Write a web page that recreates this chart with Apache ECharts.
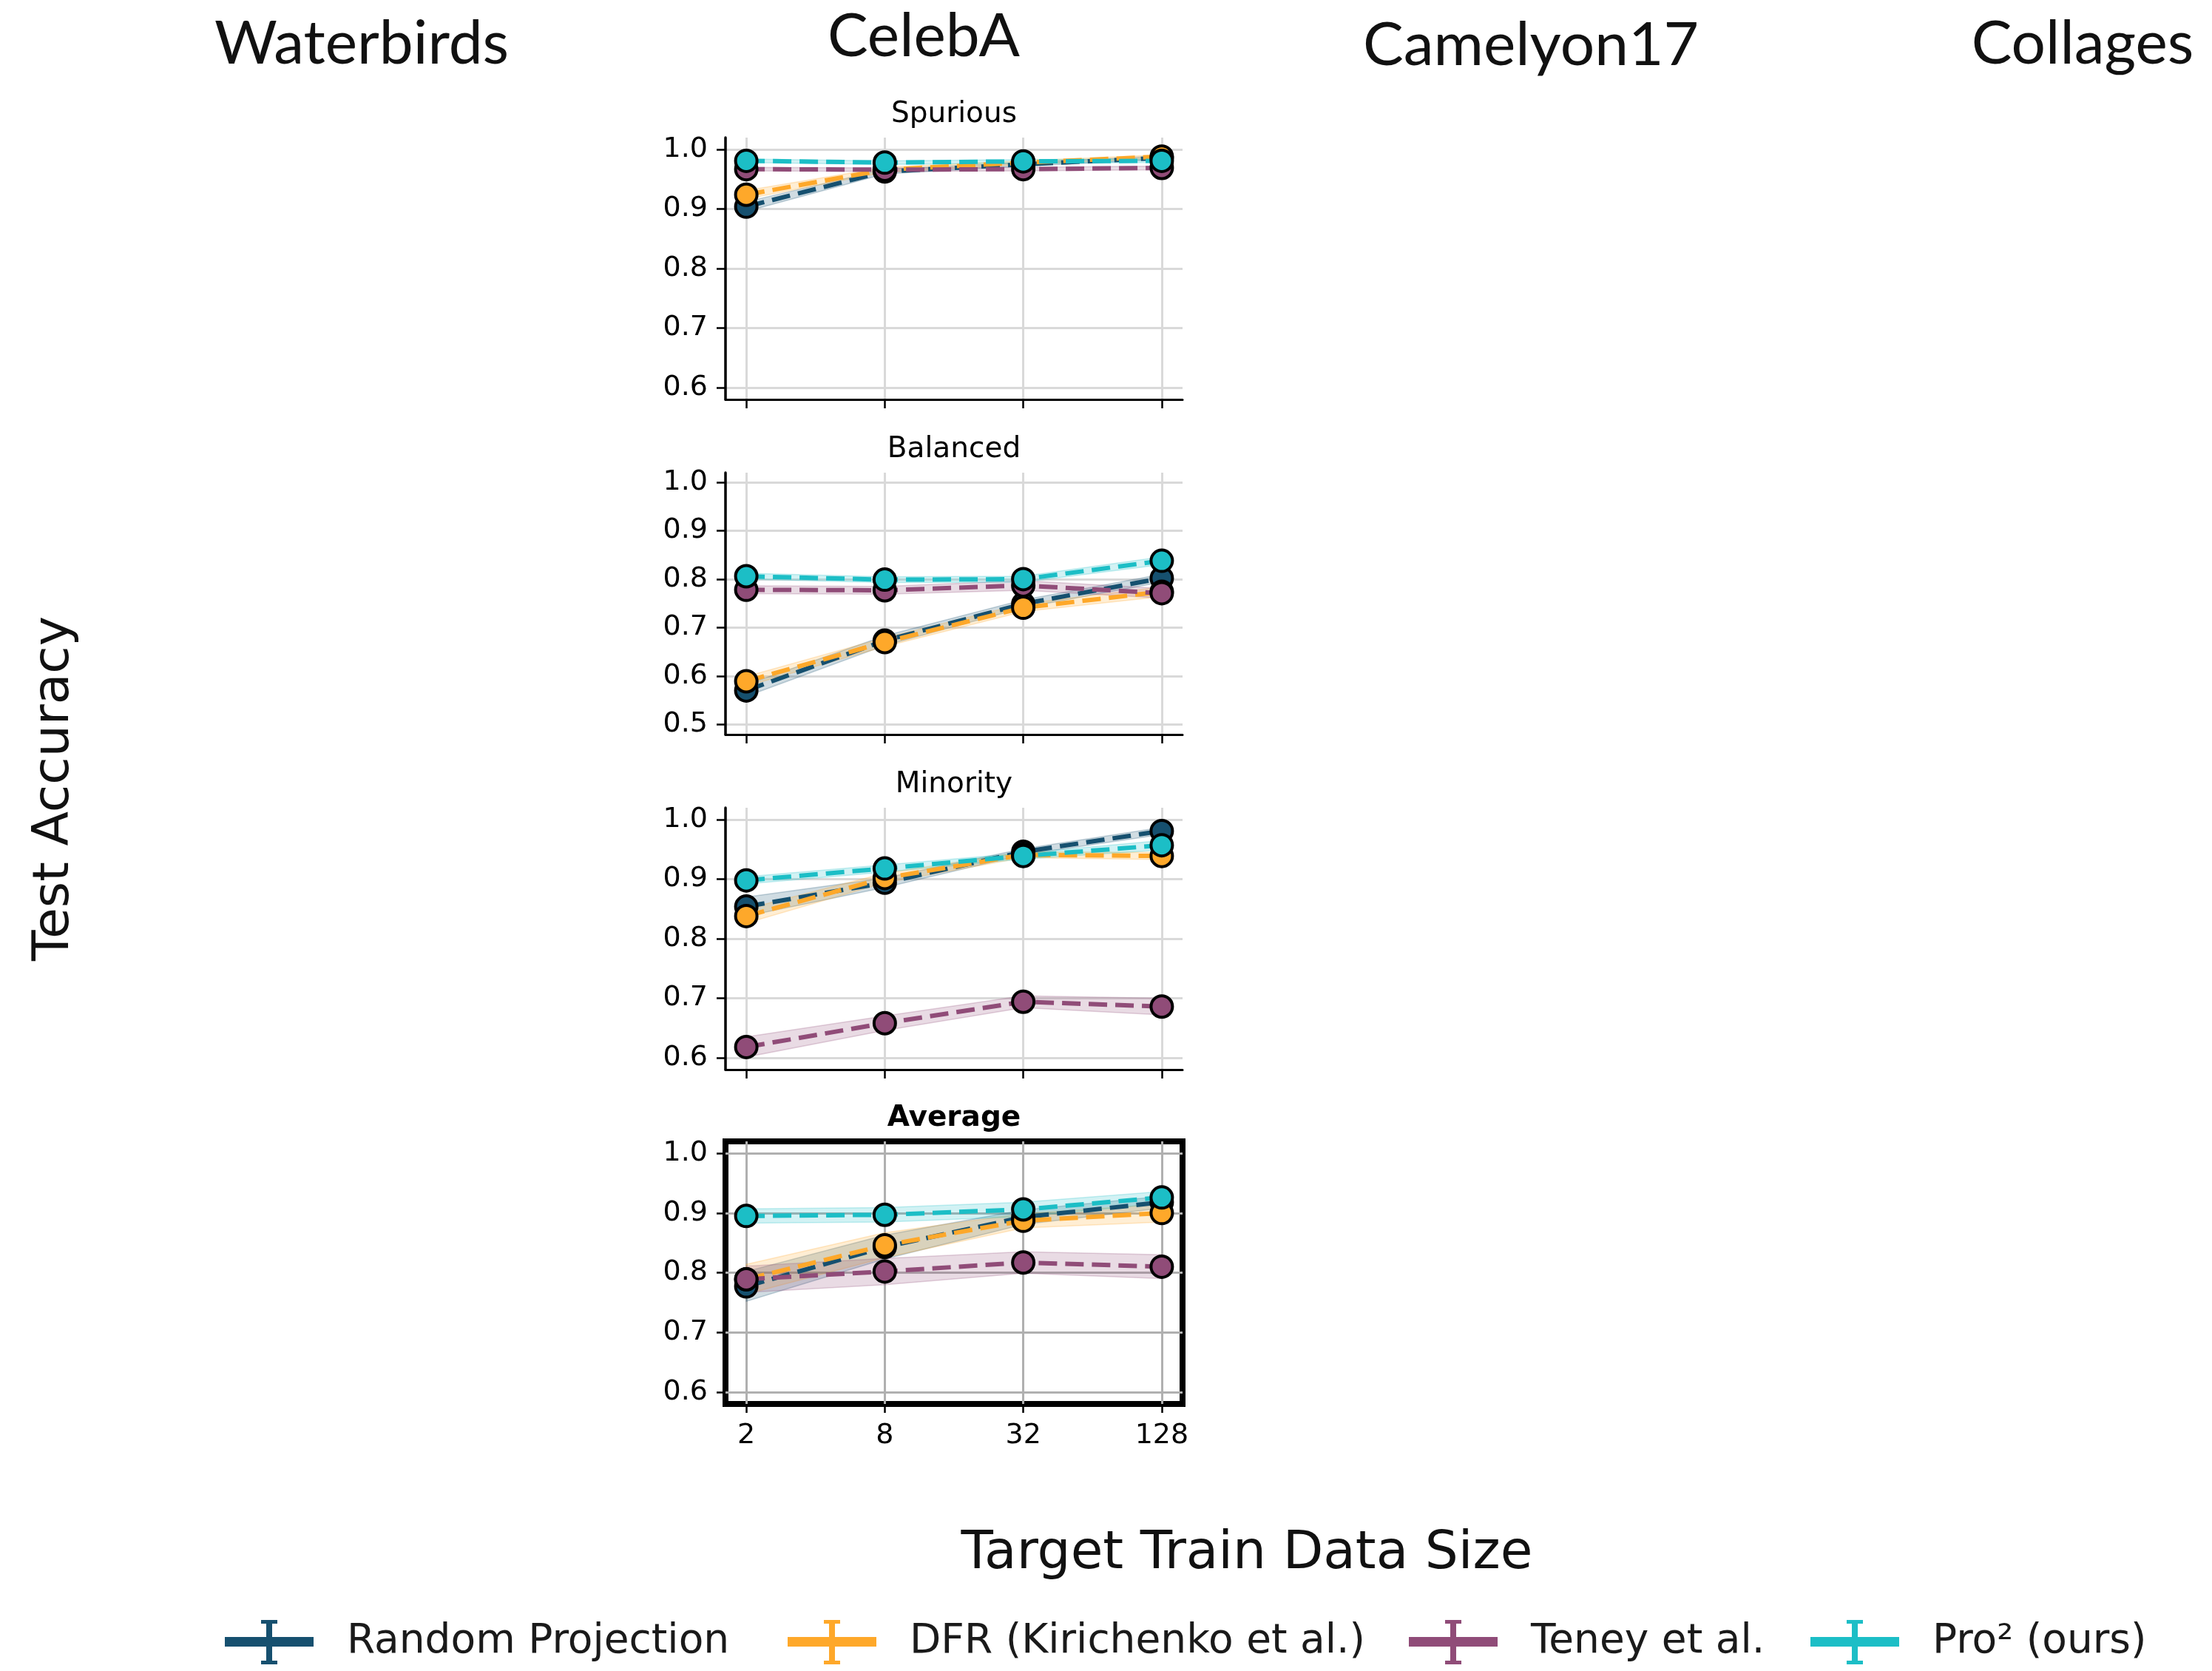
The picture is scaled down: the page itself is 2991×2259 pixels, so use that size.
<!DOCTYPE html>
<html><head><meta charset="utf-8">
<script src="https://cdn.jsdelivr.net/npm/echarts@6/dist/echarts.min.js"></script>
<style>html,body{margin:0;padding:0;background:#fff}#c{width:2991px;height:2259px}</style>
</head><body><div id="c"></div>
<script>
// ---------------- data ----------------
const xTickLabels = ['2', '8', '32', '128'];
const xPositions = [0, 1, 2, 3];
const methodNames = ['Random Projection', 'DFR (Kirichenko et al.)', 'Teney et al.', 'Pro\u00b2 (ours)'];
const methodColors = ['#16506f', '#fea82a', '#904c78', '#1cbec6'];
const panelTitles = ['Spurious', 'Balanced', 'Minority', 'Average'];
const datasetHeaders = ['Waterbirds', 'CelebA', 'Camelyon17', 'Collages'];
const yAxisTitle = 'Test Accuracy';
const xAxisTitle = 'Target Train Data Size';

// rows: Random Projection, DFR, Teney et al., Pro2
const spuriousMean = [
  [0.904, 0.963, 0.975, 0.986],
  [0.924, 0.966, 0.978, 0.988],
  [0.967, 0.966, 0.967, 0.969],
  [0.981, 0.978, 0.980, 0.981]];
const spuriousStd = [
  [0.008, 0.004, 0.003, 0.003],
  [0.007, 0.004, 0.003, 0.003],
  [0.003, 0.003, 0.003, 0.003],
  [0.003, 0.003, 0.003, 0.003]];

const balancedMean = [
  [0.570, 0.673, 0.749, 0.802],
  [0.589, 0.670, 0.741, 0.774],
  [0.778, 0.777, 0.787, 0.771],
  [0.806, 0.799, 0.800, 0.838]];
const balancedStd = [
  [0.012, 0.010, 0.008, 0.008],
  [0.010, 0.009, 0.008, 0.010],
  [0.008, 0.008, 0.010, 0.010],
  [0.006, 0.006, 0.006, 0.008]];

const minorityMean = [
  [0.854, 0.894, 0.946, 0.981],
  [0.838, 0.902, 0.941, 0.939],
  [0.618, 0.658, 0.694, 0.686],
  [0.898, 0.918, 0.939, 0.957]];
const minorityStd = [
  [0.016, 0.008, 0.005, 0.006],
  [0.012, 0.008, 0.005, 0.006],
  [0.017, 0.012, 0.010, 0.014],
  [0.006, 0.006, 0.005, 0.008]];

const averageMean = [
  [0.777, 0.843, 0.893, 0.918],
  [0.789, 0.846, 0.887, 0.900],
  [0.789, 0.802, 0.817, 0.810],
  [0.895, 0.897, 0.906, 0.926]];
const averageStd = [
  [0.025, 0.020, 0.012, 0.010],
  [0.025, 0.021, 0.012, 0.015],
  [0.022, 0.022, 0.018, 0.020],
  [0.012, 0.012, 0.012, 0.010]];

const spuriousYTicks = [0.6, 0.7, 0.8, 0.9, 1.0];
const balancedYTicks = [0.5, 0.6, 0.7, 0.8, 0.9, 1.0];
const minorityYTicks = [0.6, 0.7, 0.8, 0.9, 1.0];
const averageYTicks = [0.6, 0.7, 0.8, 0.9, 1.0];
const yMins = [0.58, 0.479, 0.58, 0.58];
const yMaxs = [1.02, 1.02, 1.02, 1.02];

// ---------------- layout ----------------
const panelMeans = [spuriousMean, balancedMean, minorityMean, averageMean];
const panelStds = [spuriousStd, balancedStd, minorityStd, averageStd];
const panelYTicks = [spuriousYTicks, balancedYTicks, minorityYTicks, averageYTicks];
const gridLeft = 981, gridWidth = 618;
const gridTops = [186, 639, 1092, 1543];
const gridHeights = [354, 354, 354, 355];
const tickFont = "'DejaVu Sans', sans-serif";

function hexA(hex, a) {
  const r = parseInt(hex.slice(1, 3), 16), g = parseInt(hex.slice(3, 5), 16), b = parseInt(hex.slice(5, 7), 16);
  return 'rgba(' + r + ',' + g + ',' + b + ',' + a + ')';
}

function bandRenderer(color) {
  return function (params, api) {
    if (params.dataIndex !== 0) return null;
    const n = xPositions.length;
    const upper = [], lower = [];
    for (let i = 0; i < n; i++) {
      upper.push(api.coord([api.value(0, i), api.value(2, i)]));
      lower.push(api.coord([api.value(0, i), api.value(1, i)]));
    }
    return {
      type: 'polygon',
      shape: { points: upper.concat(lower.reverse()) },
      style: { fill: hexA(color, 0.2), stroke: hexA(color, 0.25), lineWidth: 1.5 },
      silent: true
    };
  };
}

const grids = [], xAxes = [], yAxes = [], series = [], graphics = [];
for (let g = 0; g < 4; g++) {
  const isAvg = g === 3;
  grids.push({
    left: gridLeft, top: gridTops[g], width: gridWidth, height: gridHeights[g],
    show: isAvg, borderColor: '#000', borderWidth: isAvg ? 8 : 0, backgroundColor: 'transparent', z: 0
  });
  const gridColor = isAvg ? '#b0b0b0' : '#d9d9d9';
  xAxes.push({
    type: 'value', gridIndex: g, min: -0.15, max: 3.15,
    axisLine: { show: !isAvg, onZero: false, lineStyle: { color: '#000', width: 3 } },
    axisTick: { show: true, customValues: xPositions, length: 12, lineStyle: { color: '#000', width: 2.5 } },
    axisLabel: {
      show: isAvg, customValues: xPositions, margin: 24,
      formatter: v => xTickLabels[Math.round(v)],
      fontSize: 38, fontFamily: tickFont, color: '#000'
    },
    splitLine: { show: true, lineStyle: { color: gridColor, width: 3 } }
  });
  yAxes.push({
    type: 'value', gridIndex: g, min: yMins[g], max: yMaxs[g],
    axisLine: { show: !isAvg, onZero: false, lineStyle: { color: '#000', width: 3.5 } },
    axisTick: { show: true, customValues: panelYTicks[g], length: 12, lineStyle: { color: '#000', width: 2.5 } },
    axisLabel: {
      show: true, customValues: panelYTicks[g], margin: 24,
      formatter: v => v.toFixed(1),
      fontSize: 38, fontFamily: tickFont, color: '#000'
    },
    splitLine: { show: true, lineStyle: { color: gridColor, width: 3 } }
  });

  const means = panelMeans[g], stds = panelStds[g];
  // shaded bands (mean ± std)
  for (let s = 0; s < 4; s++) {
    series.push({
      type: 'custom', name: 'band_' + g + '_' + s, xAxisIndex: g, yAxisIndex: g,
      data: xPositions.map((x, i) => [x, means[s][i] - stds[s][i], means[s][i] + stds[s][i]]),
      encode: { x: 0, y: [1, 2] },
      renderItem: bandRenderer(methodColors[s]),
      silent: true, z: 1
    });
  }
  // main dashed lines with markers
  for (let s = 0; s < 4; s++) {
    series.push({
      type: 'line', name: methodNames[s], xAxisIndex: g, yAxisIndex: g,
      data: xPositions.map((x, i) => [x, means[s][i]]),
      symbol: 'circle', symbolSize: 29,
      itemStyle: { color: methodColors[s], borderColor: '#000', borderWidth: 4 },
      lineStyle: { color: methodColors[s], width: 6, type: [25, 11] },
      emphasis: { disabled: true }, z: 2
    });
  }
  graphics.push({
    type: 'text', x: gridLeft + gridWidth / 2, y: gridTops[g] - 31,
    style: {
      text: panelTitles[g], fontSize: 39, fontFamily: tickFont, fontWeight: isAvg ? 'bold' : 'normal',
      fill: '#000', align: 'center', verticalAlign: 'middle', textAlign: 'center', textVerticalAlign: 'middle'
    }
  });
}

const headerX = [489, 1249, 2070, 2816];
const headerY = [60, 50, 62, 60];
datasetHeaders.forEach((h, i) => {
  graphics.push({
    type: 'text', x: headerX[i], y: headerY[i],
    style: {
      text: h, fontSize: 82, fontFamily: 'Lato, sans-serif', fill: '#111',
      align: 'center', verticalAlign: 'middle', textAlign: 'center', textVerticalAlign: 'middle'
    }
  });
});
graphics.push({
  type: 'text', x: 74, y: 1066, rotation: Math.PI / 2,
  style: {
    text: yAxisTitle, fontSize: 68, fontFamily: "'DejaVu Sans', sans-serif", fill: '#111',
    align: 'center', verticalAlign: 'middle', textAlign: 'center', textVerticalAlign: 'middle'
  }
});
graphics.push({
  type: 'text', x: 1686, y: 2102,
  style: {
    text: xAxisTitle, fontSize: 71, fontFamily: "'DejaVu Sans', sans-serif", fill: '#111',
    align: 'center', verticalAlign: 'middle', textAlign: 'center', textVerticalAlign: 'middle'
  }
});

// legend glyph: horizontal line with a capped vertical error bar (plus invisible spacer point)
const legendIcon = 'path://M0,23L120,23L120,36L0,36Z M56,4L64,4L64,56L56,56Z M49,0L71,0L71,5L49,5Z M49,55L71,55L71,60L49,60Z M160,30L160,30';
const legendLefts = [304, 1065, 1905, 2448];
const legends = methodNames.map((name, i) => ({
  data: [name], left: legendLefts[i], top: 2190, padding: 0,
  icon: legendIcon, itemWidth: 160, itemHeight: 60,
  itemStyle: { borderWidth: 0 },
  selectedMode: false,
  textStyle: { fontSize: 55, fontFamily: "'DejaVu Sans', sans-serif", color: '#1a1a1a' }
}));

const chart = echarts.init(document.getElementById('c'), null, { renderer: 'canvas' });
chart.setOption({
  animation: false,
  backgroundColor: '#fff',
  grid: grids, xAxis: xAxes, yAxis: yAxes, series: series,
  graphic: graphics,
  legend: legends
});
</script></body></html>
